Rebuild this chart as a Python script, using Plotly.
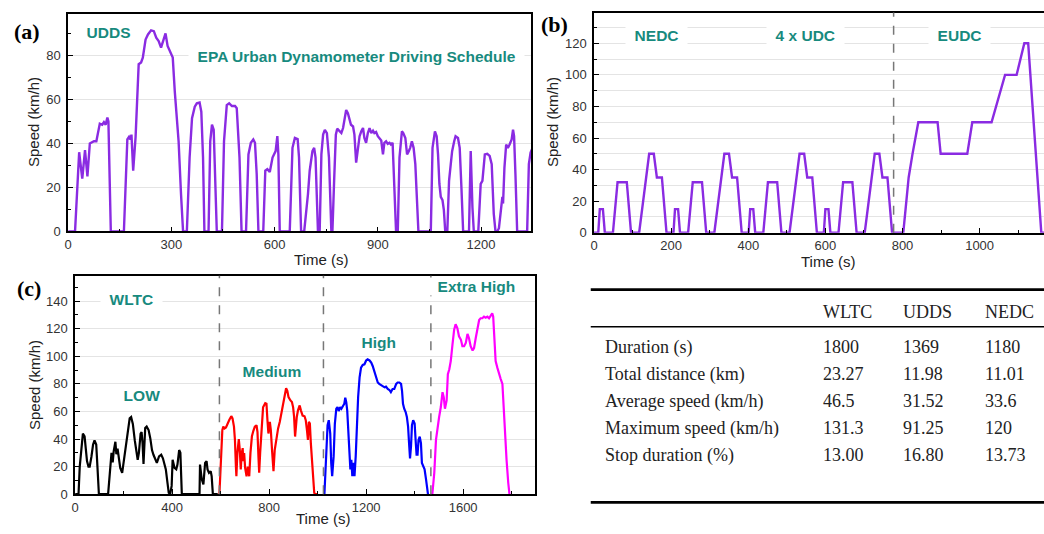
import plotly.graph_objects as go

# ---------------- data ----------------
# (a) UDDS
udds_time = [
    0, 20, 32, 41, 49, 56, 63, 75, 82, 87, 92, 99, 104, 109, 114, 117, 124,
    162, 172, 177, 181, 184, 189, 196, 201, 205, 212, 217, 225, 232, 241, 249, 256, 263, 270, 278, 283, 289, 297, 304, 310, 316, 321, 328, 334,
    345, 353, 360, 368, 374, 382, 387, 392, 396,
    408, 413, 418, 423, 427, 432,
    447, 453, 461, 468, 476, 485, 490, 498, 504,
    517, 524, 531, 538, 543, 548, 553,
    567, 573, 579, 586, 594, 599, 603, 608, 611, 615,
    644, 652, 659, 667, 671, 677,
    686, 697, 702, 710, 715, 719, 726,
    731, 736, 741, 746, 752, 758, 765,
    768, 773, 778, 782, 789, 794, 799, 803, 808, 813, 818, 822, 828, 832, 837, 842, 847, 852, 857, 861,
    866, 871, 876, 881, 886, 890, 895, 900, 905, 910, 915, 919, 924, 929, 934, 938, 943, 948, 953,
    958, 963, 970, 974, 980, 985, 990, 994, 999, 1004, 1009, 1014, 1018,
    1054, 1059, 1066, 1071, 1075, 1079, 1083, 1088, 1092, 1096,
    1102, 1107, 1112, 1116, 1122, 1126, 1133, 1138, 1143, 1148,
    1165, 1170, 1175, 1179,
    1192, 1199, 1204, 1211, 1218, 1225, 1231, 1237, 1242,
    1247, 1252, 1259, 1262, 1264, 1268, 1273, 1278, 1283, 1289, 1293, 1296, 1300, 1305,
    1334, 1339, 1344, 1350,
]
udds_speed = [
    0, 0, 36, 24, 37, 25, 40, 41, 41, 45.5, 49, 48.5, 49.7, 48.5, 51.8, 50, 0,
    0, 41.8, 43, 41.8, 44, 27.6, 43, 63.4, 76, 76.8, 79, 87.2, 89.5, 91.4, 91, 88, 86.5, 83.5, 87.2, 90, 84.3, 81.3, 79, 63.4, 50, 41, 17, 0,
    0, 33.6, 51.5, 56.7, 58.2, 58.6, 54.4, 33.6, 0,
    0, 41, 48.5, 46.2, 26, 0,
    0, 41, 57.4, 58.2, 57, 57, 56, 33.6, 0,
    0, 35, 40.3, 41.8, 40.3, 26, 0,
    0, 27.6, 28.3, 27, 33.6, 35, 36.5, 43.3, 35, 0,
    0, 38, 42.5, 42, 33.6, 0,
    0, 17, 27.6, 36.5, 38, 33.6, 0,
    0, 35, 44, 46.2, 44.7, 33.6, 0,
    0, 23, 44, 46.7, 45.5, 44.7, 47, 51.5, 55.2, 53.7, 50.7, 48.5, 47.7, 44, 31.3, 38, 43.3, 45.5, 47, 42.5,
    40.3, 44.7, 47, 44.7, 45.8, 44.7, 45.2, 43.3, 42.5, 41.3, 35, 40.3, 41, 39.8, 40.3, 39.5, 40.3, 21.6, 0,
    0, 33.6, 45.5, 44.7, 42.5, 35, 36.5, 38, 41, 38, 30.6, 11, 0,
    0, 38, 45.5, 43.3, 35, 21.6, 15.7, 14.2, 9.7, 0,
    0, 23, 30.6, 36.5, 41, 43.3, 42.5, 38, 20, 0,
    0, 36.5, 11, 0,
    0, 21.6, 23, 35, 35.3, 34.3, 30.6, 8, 0,
    0, 1.5, 9.7, 15.7, 12.7, 29, 39.5, 38, 39.5, 41.8, 46.2, 43.3, 26, 0,
    0, 30.6, 35.8, 38,
]

# (b) NEDC: 4 x UDC + EUDC
nedc_time = [
    0, 11, 15, 23, 28, 49, 61, 85, 96, 117, 143, 155, 163, 176, 188,
    206, 210, 218, 223, 244, 256, 280, 291, 312, 338, 350, 358, 371, 383,
    401, 405, 413, 418, 439, 451, 475, 486, 507, 533, 545, 553, 566, 578,
    596, 600, 608, 613, 634, 646, 670, 681, 702, 728, 740, 748, 761, 773,
    802, 808, 816, 826, 841, 891, 899, 968, 981, 1031, 1066, 1096, 1116, 1126, 1160, 1180,
]
nedc_speed = [
    0, 0, 15, 15, 0, 0, 32, 32, 0, 0, 50, 50, 35, 35, 0,
    0, 15, 15, 0, 0, 32, 32, 0, 0, 50, 50, 35, 35, 0,
    0, 15, 15, 0, 0, 32, 32, 0, 0, 50, 50, 35, 35, 0,
    0, 15, 15, 0, 0, 32, 32, 0, 0, 50, 50, 35, 35, 0,
    0, 15, 35, 50, 70, 70, 50, 50, 70, 70, 100, 100, 120, 120, 0, 0,
]

# (c) WLTC phases
low_time = [0, 14, 19, 24, 32, 39, 43, 49, 55, 60, 67, 74, 80, 87, 92, 98,
            136, 146, 150, 155, 159, 166, 170, 175, 181, 186, 194, 200, 207, 217, 225, 231, 238, 246, 252, 258,
            263, 270, 274, 278, 282, 289, 295, 303, 310, 317, 323, 330, 337, 346, 355, 362, 367, 374, 381, 386,
            392, 398, 402, 410, 417, 422, 429, 434, 440,
            513, 515, 522, 529, 536, 542, 546, 552, 559, 563, 568, 588]
low_speed = [0, 0, 20, 32, 44, 42, 32, 24, 20, 20, 27, 36, 39, 36, 20, 0,
             0, 20, 30, 23, 31, 38, 29, 33, 25, 19, 15.5, 23, 35, 48, 55, 56, 51, 39, 30, 25,
             30, 44, 45, 37, 22, 48, 49, 46.5, 40.5, 32, 28.6, 25.5, 22.7, 27.4, 28.6, 26, 22.7, 18, 8, 1,
             0, 6, 25, 19, 18, 21.5, 32, 30, 0,
             0, 21.5, 11, 7, 22.7, 24, 18, 15.5, 16.7, 13, 0, 0]

medium_time = [595, 601, 607, 611, 616, 622, 628, 636, 644, 649, 655, 659, 663, 665, 669, 675, 679, 683, 687, 691,
               693, 697, 701, 707, 712, 718, 723, 729, 735, 741, 748, 752, 756, 759, 763, 768, 775, 784, 789, 793,
               797, 803, 807, 812, 818, 823, 830, 837, 844, 851, 858, 864, 870, 875, 880, 888, 894, 899, 903, 907,
               910, 914, 919, 926, 931, 938, 946, 951, 956, 960, 964, 968, 972, 977, 981, 986, 990, 1001]
medium_speed = [0, 22.7, 46.5, 49, 47.7, 48.4, 51.3, 54, 56.6, 55, 49, 39.4, 20, 13, 29.8, 40, 32, 18, 29.8, 33.4,
                24, 29.8, 19, 13, 20, 13, 30, 42, 46, 49, 50, 45, 27, 15.5, 30, 44, 63, 66, 65.6, 53.7,
                44, 52.5, 46.5, 32, 16.7, 32, 41.8, 47.7, 52.5, 58.5, 64.4, 71.6, 76.8, 75, 70.4, 68, 66.8, 63, 56, 41.8,
                50, 56, 60.8, 64.4, 60.8, 57, 56.5, 53.7, 46.5, 39.4, 52.5, 51.3, 37, 25, 13, 1, 0, 0]

high_time = [1028, 1035, 1041, 1046, 1052, 1056, 1060, 1066, 1071, 1077, 1082, 1087, 1093, 1098, 1104, 1110, 1114, 1118, 1122, 1126,
             1131, 1135, 1139, 1143, 1147, 1152, 1157, 1162, 1167, 1173, 1179, 1186, 1193, 1200, 1206, 1214, 1221, 1227, 1234, 1241,
             1248, 1254, 1261, 1269, 1276, 1282, 1289, 1296, 1302, 1309, 1316, 1324, 1330, 1337, 1344, 1348, 1352, 1357, 1363, 1368,
             1373, 1377, 1381, 1385, 1389, 1394, 1400, 1404, 1408, 1412, 1416, 1421, 1426, 1430, 1436, 1441, 1447, 1451, 1455]
high_speed = [0, 32, 50, 53.7, 44, 22.7, 13, 27.4, 51, 62, 63.2, 60.3, 63.2, 62, 64.4, 65.6, 70, 66.8, 60.8, 46.5,
              27.4, 18, 25, 13, 22.7, 13, 27.4, 51, 70.4, 84.7, 91.8, 93.7, 94.2, 97, 97.8, 97, 95.4, 93, 89.4, 84.7,
              81, 80, 79.2, 78.7, 77.5, 78, 76.3, 75.6, 74, 76.3, 76.3, 80, 81, 81, 80, 75, 65.6, 62, 59.6, 56,
              49, 37, 26, 34.6, 50, 53.7, 51.3, 39.4, 28.6, 28.6, 39.4, 41.7, 37, 22.7, 20.3, 18, 10.7, 3.6, 0]

extra_time = [1473, 1481, 1488, 1495, 1501, 1508, 1515, 1520, 1525, 1532, 1537, 1543, 1549, 1556, 1563, 1569, 1576, 1583, 1591, 1597,
              1604, 1611, 1618, 1624, 1631, 1639, 1645, 1652, 1659, 1666, 1672, 1679, 1686, 1693, 1700, 1707, 1714, 1720, 1724, 1728,
              1734, 1741, 1748, 1755, 1762, 1767, 1772, 1779, 1786, 1791]
extra_speed = [0, 15.5, 39.4, 50, 56, 63.2, 74, 70.4, 62, 68, 87, 90.6, 96.6, 108.5, 119.3, 123.3, 120.5, 114.5, 112, 107.3,
               107.3, 109.7, 116.2, 113.3, 107.3, 104.2, 106, 113.3, 121.6, 126.4, 127.6, 127.6, 128.8, 128, 128.8, 127.6, 129.5, 131.2, 128.8, 115.7,
               96.6, 91.8, 87, 83.5, 80, 63.2, 44, 25, 8.3, 0]

nedc_phase_boundary = [777]
wltc_phase_boundaries = [595, 1024, 1467]

# table
table_columns = ["WLTC", "UDDS", "NEDC"]
table_rows = ["Duration (s)", "Total distance (km)", "Average speed (km/h)", "Maximum speed (km/h)", "Stop duration (%)"]
table_wltc = ["1800", "23.27", "46.5", "131.3", "13.00"]
table_udds = ["1369", "11.98", "31.52", "91.25", "16.80"]
table_nedc = ["1180", "11.01", "33.6", "120", "13.73"]

for a, b in [(udds_time, udds_speed), (nedc_time, nedc_speed), (low_time, low_speed),
             (medium_time, medium_speed), (high_time, high_speed), (extra_time, extra_speed)]:
    assert len(a) == len(b), (len(a), len(b))

# ---------------- figure ----------------
W, H = 1044, 534
def fx(x):
    return x / W
def fy(y):
    return 1 - y / H

SANS = "Arial, Liberation Sans, sans-serif"
SERIF = "Times New Roman, Liberation Serif, serif"
TEAL = "#178a7e"
PURPLE = "#8a2be2"
GRID = "#e4e4e4"

fig = go.Figure()
fig.add_trace(go.Scatter(x=udds_time, y=udds_speed, mode="lines", line=dict(color=PURPLE, width=2.4),
                         xaxis="x", yaxis="y", showlegend=False))
fig.add_trace(go.Scatter(x=nedc_time, y=nedc_speed, mode="lines", line=dict(color=PURPLE, width=2.4),
                         xaxis="x2", yaxis="y2", showlegend=False))
for t, v, c in [(low_time, low_speed, "#000000"), (medium_time, medium_speed, "#ff0000"),
                (high_time, high_speed, "#0000ff"), (extra_time, extra_speed, "#ff00ff")]:
    fig.add_trace(go.Scatter(x=t, y=v, mode="lines", line=dict(color=c, width=2.2),
                             xaxis="x3", yaxis="y3", showlegend=False))

def xax(domain, rng, dtick, mdtick, anchor):
    return dict(domain=domain, range=rng, anchor=anchor, dtick=dtick, tick0=0,
                showline=True, linecolor="black", linewidth=1.5, mirror=True,
                ticks="inside", ticklen=5, tickwidth=1.2, tickcolor="black",
                minor=dict(ticks="inside", ticklen=3, tickcolor="black", dtick=mdtick),
                tickfont=dict(family=SANS, size=13, color="#333"),
                showgrid=False, zeroline=False)

def yax(domain, rng, dtick, anchor, minor_grid=False, mirror=True):
    return dict(domain=domain, range=rng, anchor=anchor, dtick=dtick, tick0=0,
                showline=True, linecolor="black", linewidth=1.5, mirror=mirror,
                ticks="inside", ticklen=5, tickwidth=1.2, tickcolor="black",
                minor=dict(ticks="inside", ticklen=3, tickcolor="black", dtick=10,
                           showgrid=minor_grid, gridcolor=GRID),
                tickfont=dict(family=SANS, size=13, color="#333"),
                ticklabelstandoff=3,
                showgrid=True, gridcolor=GRID, gridwidth=1, zeroline=False)

fig.update_layout(
    width=W, height=H, margin=dict(l=0, r=0, t=0, b=0),
    paper_bgcolor="white", plot_bgcolor="white",
    xaxis=xax([fx(64.4), fx(529.3)], [0, 1346], 300, 150, "y"),
    yaxis=yax([fy(235), fy(14)], [0, 98.9], 20, "x"),
    xaxis2=xax([fx(592.3), 1.0], [0, 1167], 200, 100, "y2"),
    yaxis2=yax([fy(236.3), fy(12.7)], [0, 139.5], 20, "x2", minor_grid=True, mirror=False),
    xaxis3=xax([fx(71.4), fx(533.2)], [0, 1897], 400, 200, "y3"),
    yaxis3=yax([fy(501.7), fy(280)], [0, 158.4], 20, "x3"),
)

shapes = []
for t in nedc_phase_boundary:
    shapes.append(dict(type="line", xref="x2", yref="y2 domain", x0=t, x1=t, y0=0, y1=1,
                       line=dict(color="#777", width=1.5, dash="dash")))
for t in wltc_phase_boundaries:
    shapes.append(dict(type="line", xref="x3", yref="y3 domain", x0=t, x1=t, y0=0, y1=1,
                       line=dict(color="#777", width=1.5, dash="dash")))
# table rules
shapes.append(dict(type="line", xref="paper", yref="paper", x0=fx(589), x1=1.0, y0=fy(294), y1=fy(294),
                   line=dict(color="black", width=2.6)))
shapes.append(dict(type="line", xref="paper", yref="paper", x0=fx(589), x1=1.0, y0=fy(331.7), y1=fy(331.7),
                   line=dict(color="black", width=1.3)))
shapes.append(dict(type="line", xref="paper", yref="paper", x0=fx(589), x1=1.0, y0=fy(510), y1=fy(510),
                   line=dict(color="black", width=2.6)))
fig.update_layout(shapes=shapes)

ann = []
def label(text, x, y, xref, yref, pad=True):
    ann.append(dict(text=("&nbsp;&nbsp;" + text + "&nbsp;&nbsp;") if pad else text,
                    x=x, y=y, xref=xref, yref=yref, showarrow=False,
                    xanchor="center", yanchor="middle", bgcolor="white", borderpad=0,
                    font=dict(family=SANS, size=15.5, color=TEAL, weight="bold")))

label("UDDS", 117, 90.2, "x", "y")
label("EPA Urban Dynamometer Driving Schedule", 838, 79.5, "x", "y")
label("NEDC", 162, 124.8, "x2", "y2")
label("4 x UDC", 548, 124.8, "x2", "y2")
label("EUDC", 949, 124.8, "x2", "y2")
label("WLTC", 232, 141.5, "x3", "y3")
label("LOW", 274, 71.6, "x3", "y3")
label("Medium", 812, 89, "x3", "y3")
label("High", 1255, 110.2, "x3", "y3")
label("Extra High", 1654, 150.3, "x3", "y3")

def ptext(text, x, y, size, family=SANS, bold=False, angle=0, xanchor="center", color="#222"):
    ann.append(dict(text=text, x=fx(x), y=fy(y), xref="paper", yref="paper", showarrow=False,
                    xanchor=xanchor, yanchor="middle", textangle=angle,
                    font=dict(family=family, size=size, color=color, weight="bold" if bold else "normal")))

# panel letters
ptext("(a)", 23, 32, 22, SERIF, True, color="black")
ptext("(b)", 553, 25, 22, SERIF, True, color="black")
ptext("(c)", 25, 293, 22, SERIF, True, color="black")
# axis titles
ptext("Speed (km/h)", 29, 124, 15, angle=-90)
ptext("Time (s)", 318, 263, 15)
ptext("Speed (km/h)", 550, 124, 15, angle=-90)
ptext("Time (s)", 827, 265, 15)
ptext("Speed (km/h)", 30, 391, 15, angle=-90)
ptext("Time (s)", 320, 526, 15)

# table text
col_x = [820, 900.7, 982.7]
row_y = [352.7, 380, 407.3, 435, 462.3]
for cx, name in zip(col_x, table_columns):
    ptext(name, cx, 316.7, 18, SERIF, xanchor="left")
for ry, name in zip(row_y, table_rows):
    ptext(name, 601.7, ry, 18, SERIF, xanchor="left")
for cx, col in zip(col_x, [table_wltc, table_udds, table_nedc]):
    for ry, val in zip(row_y, col):
        ptext(val, cx, ry, 18, SERIF, xanchor="left")

fig.update_layout(annotations=ann)
fig.write_html("out.html")
